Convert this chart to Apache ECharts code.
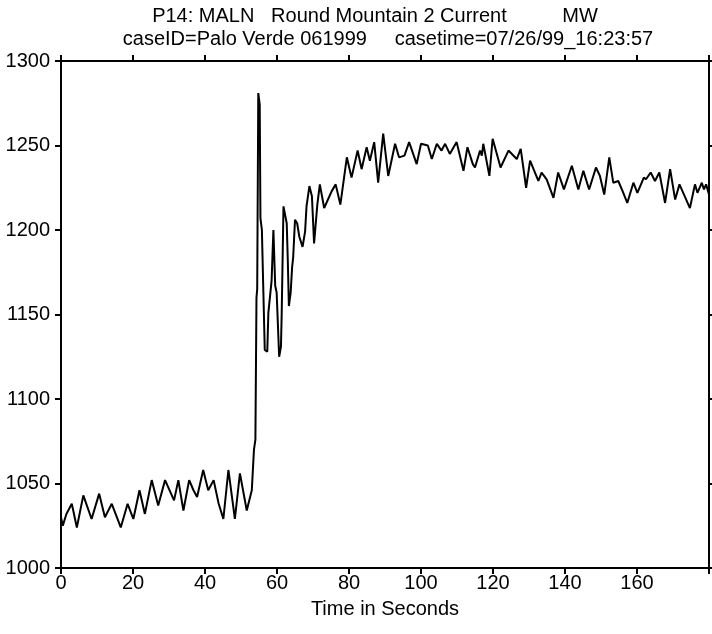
<!DOCTYPE html>
<html>
<head>
<meta charset="utf-8">
<script src="https://cdn.jsdelivr.net/npm/echarts@6/dist/echarts.min.js"></script>
<style>
html,body{margin:0;padding:0;background:#fff;}
#c{width:712px;height:634px;}
</style>
</head>
<body>
<div id="c"></div>
<script>
const titleLine1 = "P14: MALN   Round Mountain 2 Current          MW";
const titleLine2 = "caseID=Palo Verde 061999     casetime=07/26/99_16:23:57";
const xAxisName = "Time in Seconds";
const xTicks = [0, 20, 40, 60, 80, 100, 120, 140, 160];
const yTicks = [1000, 1050, 1100, 1150, 1200, 1250, 1300];

const times = [0, 0.5, 1.5, 3.0, 4.4, 6.2, 8.5, 10.6, 12.2, 14.1, 16.6, 18.5, 20.1, 21.8, 23.3, 25.2, 27.0, 28.9, 31.4, 32.6, 34.0, 35.6, 36.8, 37.8, 39.5, 40.9, 42.4, 43.8, 45.1, 46.5, 48.3, 49.7, 51.6, 53.0, 53.6, 54.0, 54.3, 54.5, 54.8, 55.2, 55.4, 55.8, 56.6, 57.3, 57.6, 58.5, 59.0, 59.5, 59.9, 60.6, 61.1, 61.3, 61.8, 62.2, 62.7, 63.0, 63.3, 63.8, 64.2, 64.5, 65.0, 65.6, 66.2, 67.1, 67.8, 68.2, 69.0, 69.7, 70.3, 70.7, 71.2, 71.9, 73.1, 75.2, 76.3, 77.6, 79.4, 80.7, 82.4, 83.5, 84.9, 85.8, 87.0, 88.1, 89.5, 90.9, 92.8, 93.9, 95.4, 96.7, 98.8, 100.0, 101.9, 103.0, 104.4, 105.7, 106.7, 108.0, 109.9, 111.8, 112.9, 114.4, 115.0, 116.4, 116.9, 117.3, 119.0, 119.9, 122.1, 124.3, 126.6, 127.7, 129.2, 130.3, 132.6, 133.5, 134.9, 136.8, 138.1, 139.7, 141.9, 143.7, 145.1, 146.7, 148.6, 149.7, 150.9, 152.3, 153.4, 154.8, 156.0, 157.3, 159.0, 160.1, 161.9, 162.5, 163.8, 165.0, 166.2, 167.8, 169.2, 170.6, 171.8, 174.7, 176.1, 176.8, 178.0, 178.6, 179.2, 180];

const megawatts = [1030, 1025, 1032, 1038, 1024, 1043, 1029, 1044, 1030, 1038, 1024, 1038, 1029, 1046, 1032, 1052, 1037, 1052, 1040, 1052, 1034, 1052, 1046, 1042, 1058, 1046, 1052, 1038, 1029, 1058, 1029, 1056, 1034, 1046, 1070, 1076, 1160, 1165, 1281, 1274, 1207, 1200, 1129, 1128, 1151, 1170, 1200, 1167, 1163, 1125, 1131, 1150, 1214, 1213, 1204, 1182, 1155, 1163, 1178, 1184, 1206, 1204, 1196, 1190, 1199, 1214, 1226, 1220, 1192, 1193, 1215, 1227, 1213, 1223, 1227, 1215, 1243, 1231, 1247, 1236, 1249, 1241, 1252, 1228, 1257, 1232, 1251, 1243, 1244, 1252, 1239, 1251, 1250, 1242, 1251, 1247, 1251, 1245, 1252, 1235, 1249, 1239, 1237, 1247, 1244, 1251, 1232, 1254, 1237, 1247, 1242, 1248, 1225, 1241, 1229, 1234, 1230, 1219, 1234, 1224, 1238, 1224, 1235, 1224, 1237, 1232, 1221, 1243, 1228, 1229, 1223, 1216, 1228, 1222, 1231, 1230, 1234, 1229, 1234, 1216, 1236, 1218, 1227, 1213, 1227, 1222, 1228, 1224, 1227, 1221];

const FONT = "Liberation Sans, Arial, sans-serif";
const FS = 20;
const chart = echarts.init(document.getElementById('c'), null, {renderer: 'canvas'});
const axisLine = {show: true, onZero: false, lineStyle: {color: '#000', width: 2}};
const axisTick = {show: true, inside: false, length: 6, lineStyle: {color: '#000', width: 2}};

chart.setOption({
  animation: false,
  backgroundColor: '#fff',
  title: [
    {text: titleLine1, left: 370, top: 1, textAlign: 'center',
     textStyle: {fontFamily: FONT, fontSize: FS, fontWeight: 'normal', color: '#000'}},
    {text: titleLine2, left: 383, top: 24, textAlign: 'center',
     textStyle: {fontFamily: FONT, fontSize: FS, fontWeight: 'normal', color: '#000'}}
  ],
  grid: {left: 61, right: 3, top: 61, bottom: 66, containLabel: false},
  xAxis: [
    {type: 'value', min: 0, max: 180, interval: 20, position: 'bottom',
     axisLine: axisLine, axisTick: axisTick, splitLine: {show: false},
     axisLabel: {color: '#000', fontFamily: FONT, fontSize: FS, margin: 5,
       formatter: v => xTicks.indexOf(v) >= 0 ? String(v) : ''},
     name: xAxisName, nameLocation: 'middle', nameGap: 31,
     nameTextStyle: {color: '#000', fontFamily: FONT, fontSize: FS}},
    {type: 'value', min: 0, max: 180, interval: 20, position: 'top',
     axisLine: axisLine, axisTick: axisTick, splitLine: {show: false},
     axisLabel: {show: false}}
  ],
  yAxis: [
    {type: 'value', min: 1000, max: 1300, interval: 50, position: 'left',
     axisLine: axisLine, axisTick: axisTick, splitLine: {show: false},
     axisLabel: {color: '#000', fontFamily: FONT, fontSize: FS, margin: 11,
       formatter: v => yTicks.indexOf(v) >= 0 ? String(v) : ''}},
    {type: 'value', min: 1000, max: 1300, interval: 50, position: 'right',
     axisLine: axisLine, axisTick: axisTick, splitLine: {show: false},
     axisLabel: {show: false}}
  ],
  series: [{
    type: 'line',
    xAxisIndex: 0, yAxisIndex: 0,
    data: times.map((t, i) => [t, megawatts[i]]),
    showSymbol: false,
    lineStyle: {color: '#000', width: 2},
    clip: true
  }]
});
</script>
</body>
</html>
